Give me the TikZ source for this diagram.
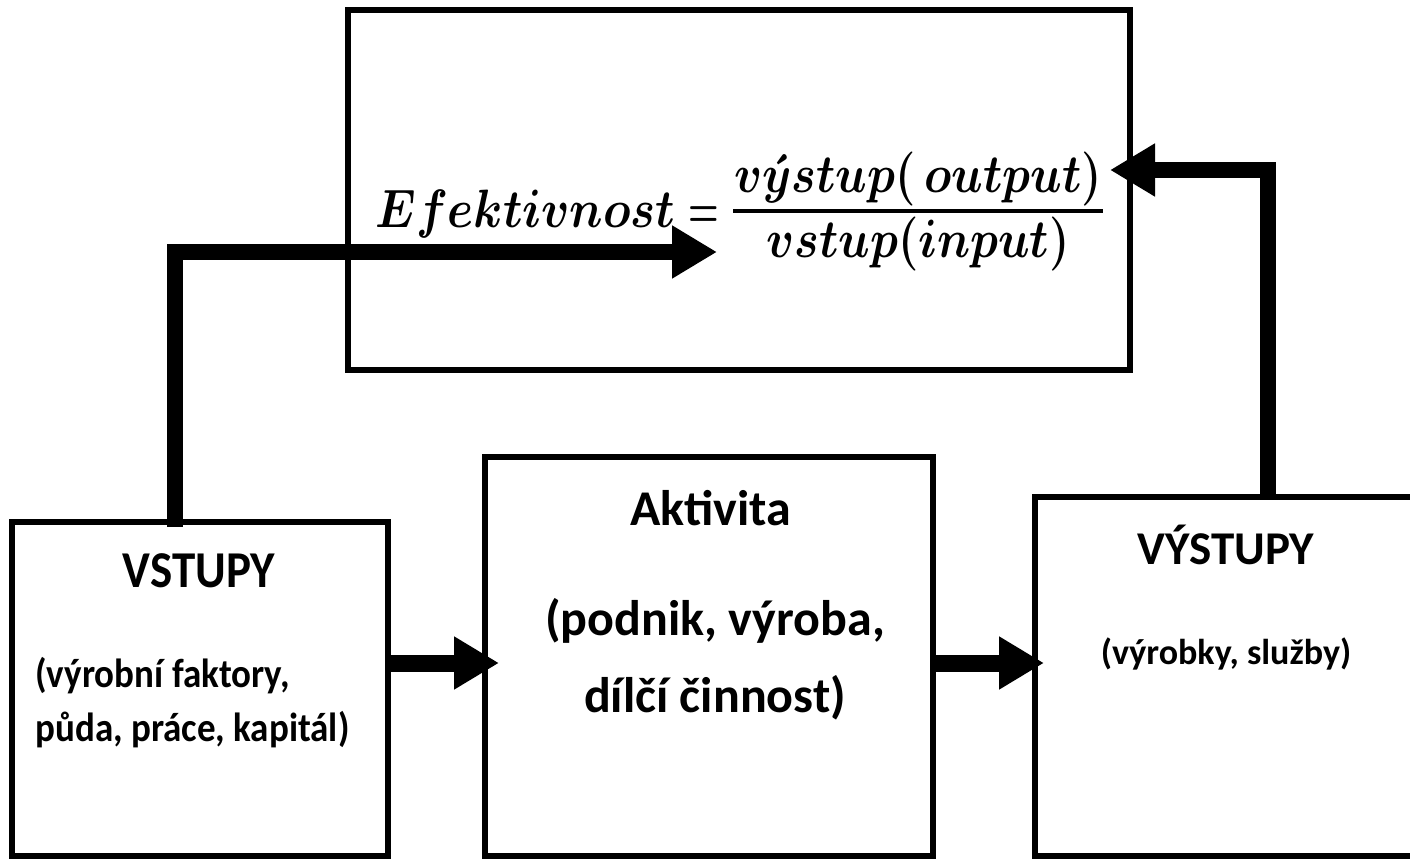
\documentclass[tikz,border=0pt]{standalone}
\usepackage{fix-cm}
\usepackage{amsmath}
\usepackage{graphicx}
\usepackage[no-math]{fontspec}
\setmainfont{Carlito}
\usetikzlibrary{arrows.meta,calc}
\newcommand{\tallL}[1]{\scalebox{1}[1.1]{#1}}
\newcommand{\fx}[2]{\scalebox{#1}[1.08]{#2}}
\tikzset{
  box/.style={draw, line width=3pt, inner sep=0pt, rectangle},
  conn/.style={line width=8pt, -{Triangle[length=22.5pt,width=25pt]}},
  arr/.style={line width=8.5pt, -{Triangle[length=22.5pt,width=25pt]}},
  title/.style={font=\fontsize{23.5}{28}\selectfont\bfseries, inner sep=0pt, anchor=base},
  sub/.style={font=\fontsize{18.5}{22}\selectfont\bfseries, inner sep=0pt, anchor=base west},
  subc/.style={font=\fontsize{18}{22}\selectfont\bfseries, inner sep=0pt, anchor=base},
  big/.style={font=\fontsize{25}{30}\selectfont\bfseries, inner sep=0pt, anchor=base},
  fml/.style={font=\fontsize{25}{30}\selectfont, inner sep=0pt}
}
\begin{document}
\begin{tikzpicture}[x=0.5pt,y=-0.5pt]
\useasboundingbox (0,0) rectangle (1410,861);
\clip (0,0) rectangle (1410,861);
\fill[white] (0,0) rectangle (1410,861);
% boxes
\node[box, minimum width=391pt, minimum height=180pt] (eff) at (739,190) {};
\node[box, minimum width=188pt, minimum height=167pt] (vstupy) at (200,689) {};
\node[box, minimum width=224pt, minimum height=199.5pt] (aktivita) at (709,656.5) {};
\node[box, minimum width=212.5pt, minimum height=179.5pt] (vystupy) at (1247.5,676.5) {};
% formula
\node[fml, anchor=base west] (fleft) at (375,228) {\fx{0.94}{$\boldsymbol{Efektivnost}$}};
\node[fml, anchor=base] (feq) at (704,228) {\fx{0.7}{$\boldsymbol{=}$}};
\node[fml, anchor=base] (fnum) at (918,193) {\fx{0.93}{$\boldsymbol{v\acute{y}stup(\,output)}$}};
\node[fml, anchor=base] (fden) at (918,258) {\fx{0.93}{$\boldsymbol{vstup(input)}$}};
\draw[line width=2pt] (733,211) -- (1103,211);
% texts
\node[title] (tvstupy) at (199,588) {\tallL{VSTUPY}};
\node[sub] (svstupyA) at (35,687) {\tallL{(výrobní faktory,}};
\node[sub] (svstupyB) at (35,741) {\tallL{půda, práce, kapitál)}};
\node[big] (takt) at (711,525) {Aktivita};
\node[big] (saktA) at (715,635) {(podnik, výroba,};
\node[big] (saktB) at (715,712) {dílčí činnost)};
\node[title] (tvys) at (1226,565) {VÝSTUPY};
\node[subc] (svys) at (1226,664) {(výrobky, služby)};
% connectors
\coordinate (tipL) at (717,252);
\coordinate (tipR) at (1110,170);
\draw[conn] ($(vstupy.north)+(-25,8)$) |- (tipL);
\draw[conn] ($(vystupy.north)+(20.5,0)$) |- (tipR);
\draw[arr] ($(vstupy.east)+(0,-26)$) -- ($(aktivita.west)+(17,6.5)$);
\draw[arr] ($(aktivita.east)+(0,6.5)$) -- ($(vystupy.west)+(12,-13.5)$);
\end{tikzpicture}
\end{document}
